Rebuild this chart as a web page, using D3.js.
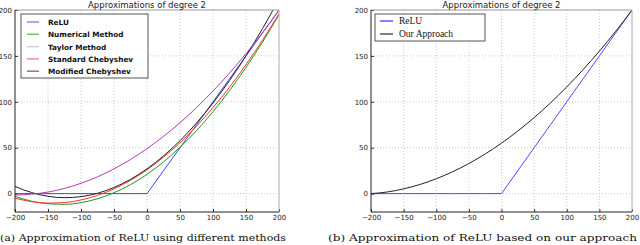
<!DOCTYPE html>
<html>
<head>
<meta charset="utf-8">
<script src="https://cdn.jsdelivr.net/npm/d3@7"></script>
<style>
body { margin: 0; background: #fff; }
svg { display: block; }
</style>
</head>
<body>
<div id="root"></div>
<script>
var xs = [-200, -175, -150, -125, -100, -75, -50, -25, 0, 25, 50, 75, 100, 125, 150, 175, 200];
var relu = [0, 0, 0, 0, 0, 0, 0, 0, 0, 25, 50, 75, 100, 125, 150, 175, 200];
var numerical = [-3, -8.2, -11, -11.6, -9.8, -5.6, 1, 9.8, 21, 34.6, 50.5, 68.6, 89.3, 112.2, 137.5, 165, 195];
var taylor = [7.8, 1.2, -2.9, -4.4, -3.3, 0.4, 6.7, 15.6, 27, 41.1, 57.7, 76.9, 98.7, 123.1, 150.1, 179.7, 211.8];
var standardCheb = [-5, -8.7, -10.3, -9.7, -6.9, -1.9, 5.2, 14.5, 26, 39.7, 55.4, 73.5, 93.7, 115.9, 140.5, 167.1, 196];
var modifiedCheb = [-1.5, -0.6, 1.7, 5.7, 11.3, 18.3, 27, 37.2, 49, 62.4, 77.2, 93.7, 111.8, 131.3, 152.5, 175.2, 199.5];
var ourApproach = [0, 1.8, 5.2, 10, 16.2, 23.8, 32.8, 43.2, 55, 68.2, 82.8, 98.8, 116.2, 135, 155.2, 176.8, 199.8];

var xTicks = [-200, -150, -100, -50, 0, 50, 100, 150, 200];
var yTicks = [0, 50, 100, 150, 200];
var title = "Approximations of degree 2";

var svgWidth = 640, svgHeight = 245;

var svg = d3.select("#root").append("svg")
  .attr("width", svgWidth).attr("height", svgHeight);

function panel(id, left, right, series, legendOpts, caption, capX, capW) {
  var top = 10, bottom = 212;
  var x = d3.scaleLinear().domain([-200, 200]).range([left, right]);
  var y = d3.scaleLinear().domain([-20, 200]).range([bottom, top]);
  var g = svg.append("g");

  g.append("clipPath").attr("id", id)
    .append("rect").attr("x", left).attr("y", top)
    .attr("width", right - left).attr("height", bottom - top);

  // grid
  g.selectAll(".gx").data(xTicks.slice(1, -1)).enter().append("line")
    .attr("x1", d => x(d)).attr("x2", d => x(d))
    .attr("y1", top).attr("y2", bottom)
    .attr("stroke", "#bbb").attr("stroke-width", 0.8).attr("stroke-dasharray", "1,2");
  g.selectAll(".gy").data(yTicks.slice(0, -1)).enter().append("line")
    .attr("x1", left).attr("x2", right)
    .attr("y1", d => y(d)).attr("y2", d => y(d))
    .attr("stroke", "#bbb").attr("stroke-width", 0.8).attr("stroke-dasharray", "1,2");

  // axes
  var ax = g.append("g").attr("transform", "translate(0," + bottom + ")")
    .call(d3.axisBottom(x).tickValues(xTicks).tickSize(-3).tickPadding(3)
      .tickFormat(d => d < 0 ? "\u2212" + (-d) : d));
  var ay = g.append("g").attr("transform", "translate(" + left + ",0)")
    .call(d3.axisLeft(y).tickValues(yTicks).tickSize(-3).tickPadding(3));
  [ax, ay].forEach(function (a) {
    a.select(".domain").remove();
    a.selectAll("text").attr("font-family", "DejaVu Sans").attr("font-size", 7).attr("fill", "#222");
    a.selectAll("line").attr("stroke", "#333");
  });

  // lines
  var line = d3.line().x((d, i) => x(xs[i])).y(d => y(d)).curve(d3.curveMonotoneX);
  var lineLin = d3.line().x((d, i) => x(xs[i])).y(d => y(d));
  series.forEach(function (s) {
    g.append("path").datum(s.values)
      .attr("d", s.linear ? lineLin : line)
      .attr("fill", "none").attr("stroke", s.color).attr("stroke-width", 1)
      .attr("clip-path", "url(#" + id + ")");
  });

  // frame
  g.append("line").attr("x1", left).attr("x2", right).attr("y1", top).attr("y2", top)
    .attr("stroke", "#999").attr("stroke-width", 1);
  g.append("line").attr("x1", right).attr("x2", right).attr("y1", top).attr("y2", bottom)
    .attr("stroke", "#aaa").attr("stroke-width", 1);
  g.append("line").attr("x1", left).attr("x2", left).attr("y1", top).attr("y2", bottom)
    .attr("stroke", "#222").attr("stroke-width", 1);
  g.append("line").attr("x1", left).attr("x2", right).attr("y1", bottom).attr("y2", bottom)
    .attr("stroke", "#222").attr("stroke-width", 1);

  // title
  g.append("text").attr("x", (left + right) / 2).attr("y", 8)
    .attr("text-anchor", "middle").attr("font-family", "DejaVu Sans")
    .attr("font-size", 8.5).attr("fill", "#222").text(title);

  // legend
  var L = legendOpts;
  g.append("rect").attr("x", L.x).attr("y", L.y).attr("width", L.w).attr("height", L.h)
    .attr("fill", "#fff").attr("stroke", "#555").attr("stroke-width", 1);
  L.items.forEach(function (it, i) {
    var yy = L.y + L.first + i * L.step;
    g.append("line").attr("x1", L.x + L.l1).attr("x2", L.x + L.l2)
      .attr("y1", yy).attr("y2", yy)
      .attr("stroke", it.color).attr("stroke-width", 1.5);
    g.append("text").attr("x", L.x + L.tx).attr("y", yy + 3)
      .attr("font-family", L.font).attr("font-weight", L.weight)
      .attr("font-size", L.size).attr("fill", "#111").text(it.name);
  });

  // caption
  svg.append("text").attr("x", capX).attr("y", 241)
    .attr("font-family", "DejaVu Serif").attr("font-size", 10)
    .attr("textLength", capW).attr("lengthAdjust", "spacingAndGlyphs")
    .attr("fill", "#111").text(caption);
}

panel("clipA", 15, 279, [
  { values: relu, color: "#3f3fff", linear: true },
  { values: numerical, color: "#1a9a1a" },
  { values: standardCheb, color: "#ff3030" },
  { values: taylor, color: "#222" },
  { values: modifiedCheb, color: "#b03cb0" }
], {
  x: 21, y: 14, w: 127, h: 64, first: 8, step: 12.3, l1: 6, l2: 18, tx: 27,
  font: "DejaVu Sans", weight: "bold", size: 7.3,
  items: [
    { name: "ReLU", color: "#8a8aff" },
    { name: "Numerical Method", color: "#6cbf6c" },
    { name: "Taylor Method", color: "#d0d0d0" },
    { name: "Standard Chebyshev", color: "#ff8a8a" },
    { name: "Modified Chebyshev", color: "#b35ab3" }
  ]
}, "(a) Approximation of ReLU using different methods", 0, 286);

panel("clipB", 371, 632, [
  { values: relu, color: "#4a4aff", linear: true },
  { values: ourApproach, color: "#222" }
], {
  x: 375, y: 14, w: 110, h: 27, first: 7, step: 13, l1: 5, l2: 18, tx: 24,
  font: "Liberation Serif", weight: "normal", size: 9.5,
  items: [
    { name: "ReLU", color: "#5a5aff" },
    { name: "Our Approach", color: "#555" }
  ]
}, "(b) Approximation of ReLU based on our approach", 328, 309);
</script>
</body>
</html>
